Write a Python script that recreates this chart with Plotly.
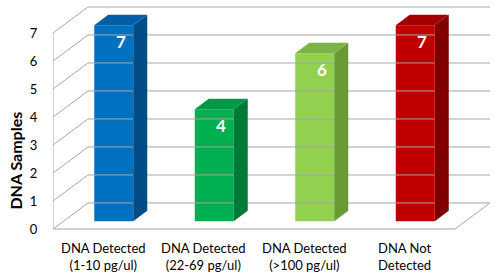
import plotly.graph_objects as go

categories = ["DNA Detected<br>(1-10 pg/ul)", "DNA Detected<br>(22-69 pg/ul)",
              "DNA Detected<br>(>100 pg/ul)", "DNA Not<br>Detected"]
values = [7, 4, 6, 7]
y_ticks = [0, 1, 2, 3, 4, 5, 6, 7]
front_colors = ["#0070C0", "#00B050", "#92D050", "#C00000"]
top_colors = ["#005FA6", "#009A46", "#7CB444", "#A50000"]
side_colors = ["#004C86", "#007A38", "#689A38", "#800000"]

# oblique projection parameters (depth offset in data units)
DX = 0.348
DY = 0.93
D0, D1 = 0.3, 0.7
W = 0.388
ymax = max(y_ticks)
n = len(categories)
xs = list(range(n))

def P(c, v, d):
    return c + d * DX, v + d * DY

fig = go.Figure()
grid = dict(color="#A6A6A6", width=1)

# walls / gridlines
for v in y_ticks:
    pts = [P(-0.5, v, 0), P(-0.5, v, 1), P(n - 0.5, v, 1)]
    fig.add_trace(go.Scatter(x=[p[0] for p in pts], y=[p[1] for p in pts], mode="lines",
                             line=grid, hoverinfo="skip", showlegend=False))
pts = [P(-0.5, ymax, 0), P(-0.5, 0, 0), P(n - 0.5, 0, 0), P(n - 0.5, 0, 1)]
fig.add_trace(go.Scatter(x=[p[0] for p in pts], y=[p[1] for p in pts], mode="lines",
                         line=grid, hoverinfo="skip", showlegend=False))

# bars
for i, v in enumerate(values):
    c = xs[i]
    fig.add_trace(go.Bar(x=[c + D0 * DX], y=[v], base=[D0 * DY], width=W,
                         marker=dict(color=front_colors[i], line=dict(width=0)),
                         showlegend=False, hoverinfo="skip"))
    side = [P(c + W / 2, 0, D0), P(c + W / 2, 0, D1), P(c + W / 2, v, D1), P(c + W / 2, v, D0)]
    fig.add_trace(go.Scatter(x=[p[0] for p in side], y=[p[1] for p in side], fill="toself",
                             fillcolor=side_colors[i], mode="lines", line=dict(width=0, color=side_colors[i]),
                             hoverinfo="skip", showlegend=False))
    top = [P(c - W / 2, v, D0), P(c + W / 2, v, D0), P(c + W / 2, v, D1), P(c - W / 2, v, D1)]
    fig.add_trace(go.Scatter(x=[p[0] for p in top], y=[p[1] for p in top], fill="toself",
                             fillcolor=top_colors[i], mode="lines", line=dict(width=0, color=top_colors[i]),
                             hoverinfo="skip", showlegend=False))
    lx, ly = P(c, v, 0.5)
    fig.add_annotation(x=lx, y=v + D0 * DY, text="<b>%d</b>" % v, showarrow=False,
                       yanchor="middle", yshift=-16,
                       font=dict(family="Lato, Open Sans, sans-serif", size=17, color="white"))
    fig.add_annotation(x=c, y=0, text=categories[i], showarrow=False,
                       yanchor="top", yshift=-9, align="center",
                       font=dict(family="Lato, Open Sans, sans-serif", size=13, color="black"))

fig.add_annotation(xref="paper", yref="paper", x=-0.088, y=(277 - 161 - 41) / 234,
                   text="<b>DNA Samples</b>", textangle=-90, showarrow=False,
                   xanchor="center", yanchor="middle",
                   font=dict(family="Lato, Open Sans, sans-serif", size=16, color="black"))

fig.update_layout(
    width=500, height=277,
    margin=dict(l=53, r=10, t=2, b=41, pad=0),
    paper_bgcolor="white", plot_bgcolor="white",
    barmode="overlay",
    font=dict(family="Lato, Open Sans, sans-serif", size=13, color="black"),
    xaxis=dict(range=[-0.5, n - 0.5 + DX], showgrid=False, zeroline=False, showline=False,
               showticklabels=False, automargin=False, fixedrange=True),
    yaxis=dict(range=[-0.25, -0.25 + 234 / 28], showgrid=False, zeroline=False, showline=False,
               tickmode="array", tickvals=y_ticks, ticks="outside", ticklen=12,
               tickcolor="rgba(0,0,0,0)", tickfont=dict(size=13), automargin=False, fixedrange=True),
)

fig.write_html("out.html", config={"displayModeBar": False},
               post_script="document.body.style.margin='0';document.body.style.overflow='hidden';")
